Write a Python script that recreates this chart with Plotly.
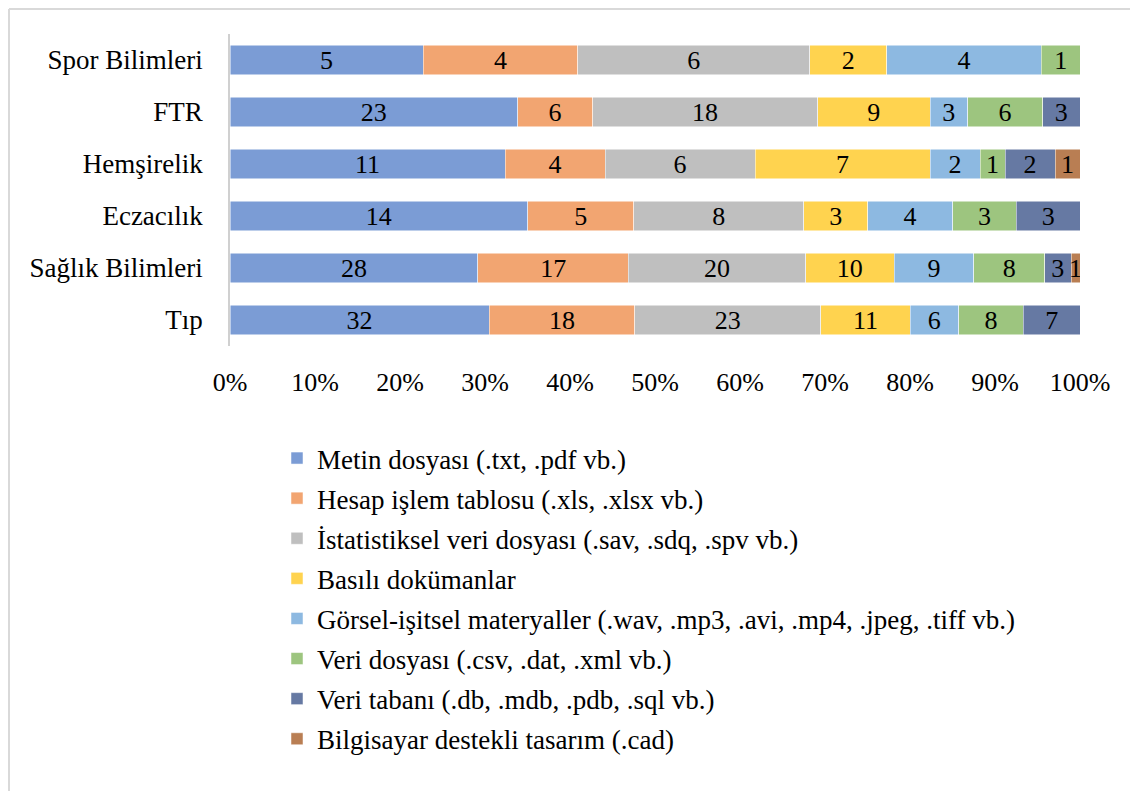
import plotly.graph_objects as go

categories = ["Tıp", "Sağlık Bilimleri", "Eczacılık", "Hemşirelik", "FTR", "Spor Bilimleri"]

series_names = [
    "Metin dosyası (.txt, .pdf vb.)",
    "Hesap işlem tablosu (.xls, .xlsx vb.)",
    "İstatistiksel veri dosyası (.sav, .sdq, .spv vb.)",
    "Basılı dokümanlar",
    "Görsel-işitsel materyaller (.wav, .mp3, .avi, .mp4, .jpeg, .tiff vb.)",
    "Veri dosyası (.csv, .dat, .xml vb.)",
    "Veri tabanı (.db, .mdb, .pdb, .sql vb.)",
    "Bilgisayar destekli tasarım (.cad)",
]

# values per category order: Tıp, Sağlık Bilimleri, Eczacılık, Hemşirelik, FTR, Spor Bilimleri
metin = [32, 28, 14, 11, 23, 5]
hesap = [18, 17, 5, 4, 6, 4]
istatistik = [23, 20, 8, 6, 18, 6]
basili = [11, 10, 3, 7, 9, 2]
gorsel = [6, 9, 4, 2, 3, 4]
veri_dosyasi = [8, 8, 3, 1, 6, 1]
veri_tabani = [7, 3, 3, 2, 3, 0]
cad = [0, 1, 0, 1, 0, 0]

series_values = [metin, hesap, istatistik, basili, gorsel, veri_dosyasi, veri_tabani, cad]
colors = ["#7B9CD5", "#F2A571", "#BFBFBF", "#FFD34F", "#8DB9E1", "#9DC57F", "#6679A3", "#B97E53"]

tick_vals = [0, 10, 20, 30, 40, 50, 60, 70, 80, 90, 100]
tick_text = [f"{v}%" for v in tick_vals]

FONT = "Liberation Serif, 'Times New Roman', Tinos, serif"
FS = 26
FS_BIG = 27

W, H = 1130, 783
L, R, T, B = 222, 58, 26, 445
PW, PH = W - L - R, H - T - B

fig = go.Figure()
for i, (name, vals, col) in enumerate(zip(series_names, series_values, colors)):
    labels = [str(v) if v else "" for v in vals]
    fig.add_trace(go.Bar(
        y=categories, x=vals, name=name, orientation="h",
        marker=dict(color=col, line=dict(color="white", width=0.5)),
        text=labels, textposition="inside", insidetextanchor="middle",
        textangle=0, textfont=dict(family=FONT, size=FS, color="black"),
        legendgroup=f"g{i}", hoverinfo="skip",
    ))

fig.update_layout(
    barmode="stack", barnorm="percent", bargap=0.44,
    width=W, height=H,
    margin=dict(l=L, r=R, t=T, b=B, autoexpand=False),
    paper_bgcolor="white", plot_bgcolor="white",
    font=dict(family=FONT, size=FS, color="black"),
    uniformtext=dict(minsize=FS, mode="show"),
    showlegend=True,
    legend=dict(
        orientation="v", x=(269 - L) / PW, xanchor="left", y=(PH - (426 - T)) / PH, yanchor="top",
        font=dict(family=FONT, size=FS_BIG, color="black"),
        tracegroupgap=2, itemwidth=30, traceorder="grouped",
        bgcolor="rgba(0,0,0,0)",
    ),
    xaxis=dict(
        range=[0, 100], tickvals=tick_vals, ticktext=tick_text,
        showgrid=False, zeroline=False, showline=False,
        ticks="outside", ticklen=13, tickcolor="rgba(0,0,0,0)",
        tickfont=dict(family=FONT, size=FS, color="black"), fixedrange=True,
    ),
    yaxis=dict(
        showgrid=False, zeroline=False, showline=True, linecolor="#D0D0D0", linewidth=1.5,
        ticks="", ticklabelstandoff=20,
        tickfont=dict(family=FONT, size=FS_BIG, color="black"),
    ),
    shapes=[
        dict(type="line", xref="paper", yref="paper",
             x0=(1 - L) / PW, x1=(W - L) / PW,
             y0=(PH + T - 1) / PH, y1=(PH + T - 1) / PH,
             line=dict(color="#D9D9D9", width=2)),
        dict(type="line", xref="paper", yref="paper",
             x0=(1 - L) / PW, x1=(1 - L) / PW,
             y0=-(B) / PH, y1=(PH + T - 1) / PH,
             line=dict(color="#D9D9D9", width=2)),
    ],
)

fig.write_html("out.html")
